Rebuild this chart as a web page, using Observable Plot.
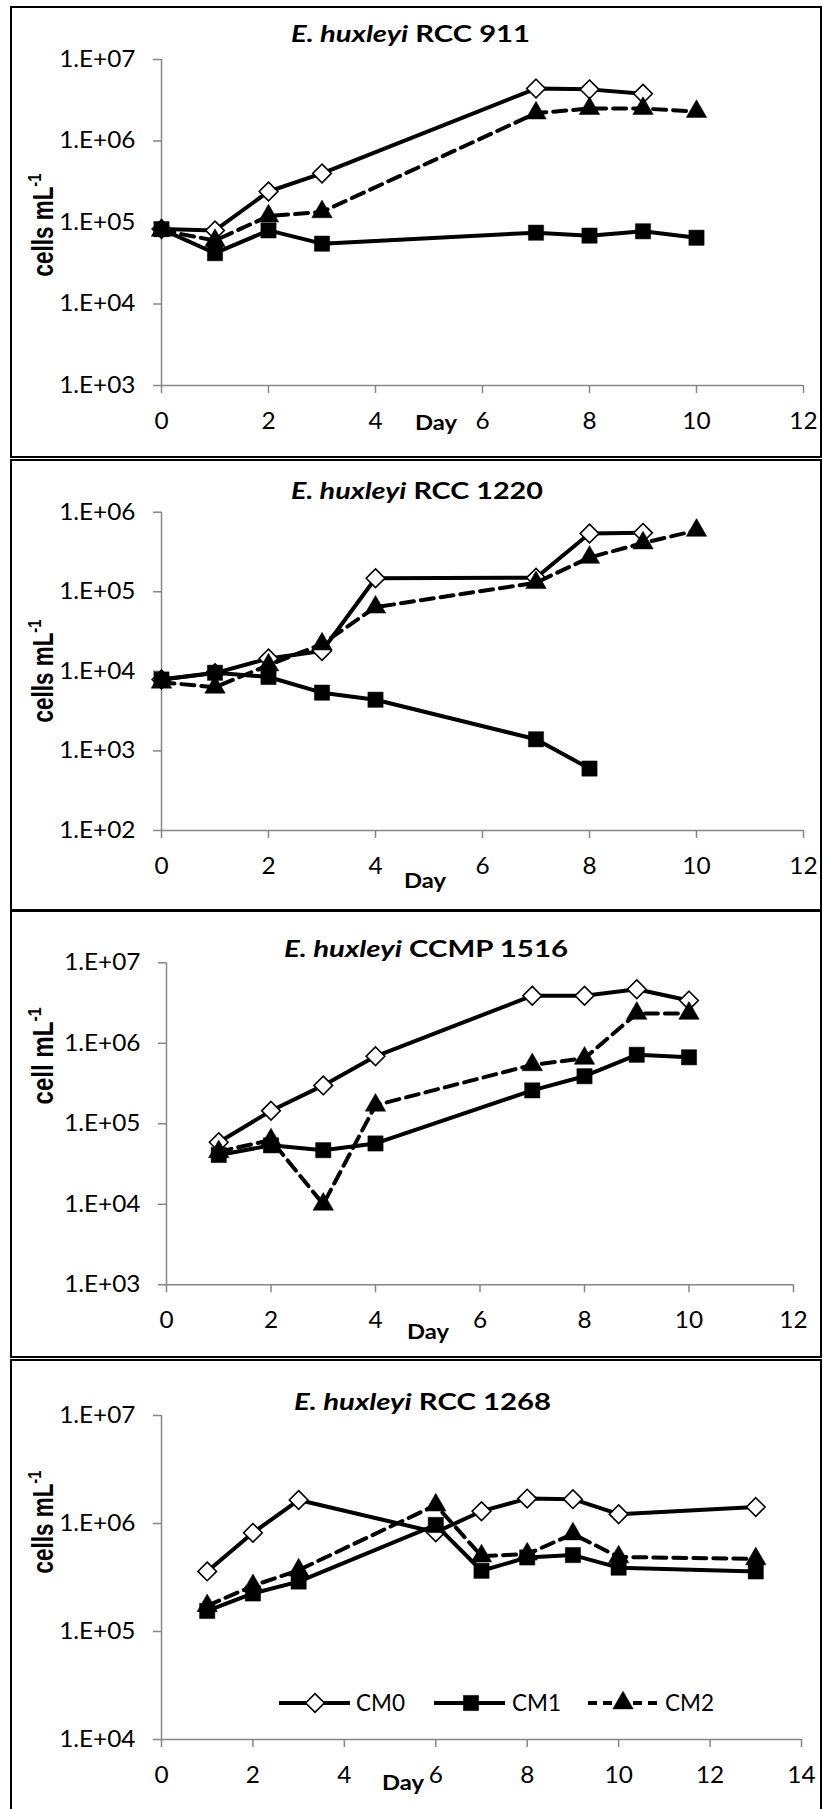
<!DOCTYPE html>
<html><head><meta charset="utf-8">
<script src="https://cdn.jsdelivr.net/npm/d3@7"></script>
<script src="https://cdn.jsdelivr.net/npm/@observablehq/plot@0.6"></script>
<style>
body{margin:0;background:#fff;width:823px;height:1809px;position:relative;overflow:hidden;font-family:Lato,"Open Sans",sans-serif;}
.box{position:absolute;box-sizing:border-box;border:2px solid #000;}
.abs{position:absolute;}
</style></head>
<body>
<script>
// ---------- data ----------
const seriesNames = ["CM0", "CM1", "CM2"];

const days911 = [0, 1, 2, 3, 7, 8, 9, 10];
const cm0_911 = [8.3e4, 8.0e4, 2.4e5, 4.0e5, 4.4e6, 4.3e6, 3.8e6, null];
const cm1_911 = [8.3e4, 4.2e4, 8.0e4, 5.5e4, 7.5e4, 6.9e4, 7.8e4, 6.5e4];
const cm2_911 = [8.0e4, 6.0e4, 1.2e5, 1.35e5, 2.2e6, 2.5e6, 2.5e6, 2.3e6];

const days1220 = [0, 1, 2, 3, 4, 7, 8, 9, 10];
const cm0_1220 = [7.9e3, 9.5e3, 1.45e4, 1.8e4, 1.48e5, 1.5e5, 5.4e5, 5.5e5, null];
const cm1_1220 = [7.9e3, 9.6e3, 8.5e3, 5.4e3, 4.4e3, 1.4e3, 6.0e2, null, null];
const cm2_1220 = [7.3e3, 6.3e3, 1.2e4, 2.2e4, 6.4e4, 1.3e5, 2.7e5, 4.1e5, 5.9e5];

const days1516 = [1, 2, 3, 4, 7, 8, 9, 10];
const cm0_1516 = [5.9e4, 1.45e5, 3.0e5, 6.9e5, 3.9e6, 3.9e6, 4.7e6, 3.4e6];
const cm1_1516 = [4.1e4, 5.4e4, 4.7e4, 5.7e4, 2.6e5, 3.9e5, 7.2e5, 6.7e5];
const cm2_1516 = [4.5e4, 6.3e4, 1.0e4, 1.7e5, 5.4e5, 6.5e5, 2.35e6, 2.35e6];

const days1268 = [1, 2, 3, 6, 7, 8, 9, 10, 13];
const cm0_1268 = [3.6e5, 8.2e5, 1.65e6, 8.3e5, 1.3e6, 1.7e6, 1.68e6, 1.22e6, 1.42e6];
const cm1_1268 = [1.55e5, 2.25e5, 2.9e5, 9.7e5, 3.65e5, 4.85e5, 5.1e5, 3.9e5, 3.6e5];
const cm2_1268 = [1.73e5, 2.65e5, 3.7e5, 1.48e6, 5.0e5, 5.2e5, 8.0e5, 4.9e5, 4.7e5];

const strainNames = ["RCC 911", "RCC 1220", "CCMP 1516", "RCC 1268"];
const yLabels = ["cells mL", "cells mL", "cell mL", "cells mL"];
const xTicks12 = [0, 2, 4, 6, 8, 10, 12];
const xTicks14 = [0, 2, 4, 6, 8, 10, 12, 14];
const yTicks7_3 = [1e3, 1e4, 1e5, 1e6, 1e7];
const yTicks6_2 = [1e2, 1e3, 1e4, 1e5, 1e6];
const yTicks7_4 = [1e4, 1e5, 1e6, 1e7];

// ---------- layout ----------
const panels = [
  {days: days911, vals: [cm0_911, cm1_911, cm2_911], xTicks: xTicks12, yTicks: yTicks7_3,
   top: 0, height: 458, mt: 59, mb: 73, ml: 161, mr: 20,
   box: [6, 452], title: [410.5, 41.7, 239], ylab: [52.5, 225, 103], day: [436, 430]},
  {days: days1220, vals: [cm0_1220, cm1_1220, cm2_1220], xTicks: xTicks12, yTicks: yTicks6_2,
   top: 459, height: 452, mt: 52.7, mb: 81, ml: 161, mr: 20,
   box: [459, 452], title: [417, 499, 252], ylab: [52.5, 671, 103], day: [425, 888]},
  {days: days1516, vals: [cm0_1516, cm1_1516, cm2_1516], xTicks: xTicks12, yTicks: yTicks7_3,
   top: 910, height: 448, mt: 52.3, mb: 73.7, ml: 166, mr: 30,
   box: [910, 448], title: [426, 956.7, 284], ylab: [52.5, 1056, 97], day: [428, 1339]},
  {days: days1268, vals: [cm0_1268, cm1_1268, cm2_1268], xTicks: xTicks14, yTicks: yTicks7_4,
   top: 1359, height: 450, mt: 56, mb: 70, ml: 161, mr: 22,
   box: [1359, 462], title: [422.5, 1410, 257], ylab: [52.5, 1522, 103], day: [403, 1790]}
];

const AXIS = "#868686";
const TEXT_STRETCH = 1.06;
const DAY_WIDTH = 42;
const YLAB_THICK = 1.3;
const fmt = d => "1.E+" + String(Math.round(Math.log10(d))).padStart(2, "0");
const styleFor = {
  CM0: {symbol: "diamond2", r: 8.4, fill: "#fff", stroke: "#000", strokeWidth: 1.6, dash: null},
  CM1: {symbol: "square", r: 8.6, fill: "#000", stroke: "#000", strokeWidth: 0.5, dash: null},
  CM2: {symbol: "triangle", r: 7.6, fill: "#000", stroke: "#000", strokeWidth: 0.5, dash: "13,7"}
};

function stretchText(svg, k) {
  d3.select(svg).selectAll("text").each(function () {
    const tr = this.getAttribute("transform");
    if (tr) {
      this.setAttribute("transform", tr + ` scale(${k},1)`);
    } else {
      const x = +this.getAttribute("x") || 0, y = +this.getAttribute("y") || 0;
      this.removeAttribute("x"); this.removeAttribute("y");
      this.setAttribute("transform", `translate(${x},${y}) scale(${k},1)`);
    }
  });
}

panels.forEach((p, idx) => {
  const box = document.createElement("div");
  box.className = "box";
  box.style.left = "10px"; box.style.width = "812px";
  box.style.top = p.box[0] + "px"; box.style.height = p.box[1] + "px";
  document.body.appendChild(box);

  const data = [];
  p.vals.forEach((arr, i) => arr.forEach((v, j) => {
    if (v != null) data.push({day: p.days[j], value: v, s: seriesNames[i]});
  }));
  const xDom = [p.xTicks[0], p.xTicks[p.xTicks.length - 1]];
  const yDom = [p.yTicks[0], p.yTicks[p.yTicks.length - 1]];

  const marks = [
    Plot.ruleX([xDom[0]], {stroke: AXIS, strokeWidth: 1.5}),
    Plot.ruleY([yDom[0]], {stroke: AXIS, strokeWidth: 1.5}),
    Plot.axisY({ticks: p.yTicks, tickFormat: fmt, tickSize: 8, tickPadding: 18, stroke: AXIS, strokeWidth: 1.5, fill: "#000", label: null}),
    Plot.axisX({ticks: p.xTicks, tickFormat: d => String(d), tickSize: 8, tickPadding: 19, stroke: AXIS, strokeWidth: 1.5, fill: "#000", label: null})
  ];
  seriesNames.forEach(s => {
    const st = styleFor[s];
    const sub = data.filter(d => d.s === s);
    marks.push(Plot.line(sub, {x: "day", y: "value", stroke: "#000", strokeWidth: 4,
      strokeDasharray: st.dash, strokeLinejoin: "round"}));
    marks.push(Plot.dot(sub, {x: "day", y: "value", symbol: () => st.symbol, r: st.r,
      fill: st.fill, stroke: st.stroke, strokeWidth: st.strokeWidth}));
  });

  const chart = Plot.plot({
    width: 823, height: p.height,
    marginLeft: p.ml, marginRight: p.mr, marginTop: p.mt, marginBottom: p.mb,
    x: {domain: xDom, nice: false},
    y: {type: "log", domain: yDom, nice: false},
    symbol: {type: "identity"},
    style: {fontFamily: "Lato, 'Open Sans', sans-serif", fontSize: "23px", background: "transparent", overflow: "visible"},
    marks
  });
  stretchText(chart, TEXT_STRETCH);
  const wrap = document.createElement("div");
  wrap.className = "abs";
  wrap.style.left = "0px"; wrap.style.top = p.top + "px";
  wrap.appendChild(chart);
  document.body.appendChild(wrap);
});

// ---------- overlay text: titles, axis titles, legend ----------
const ov = d3.select(document.body).append("svg")
  .attr("class", "abs").style("left", "0px").style("top", "0px")
  .attr("width", 823).attr("height", 1809).style("pointer-events", "none");

panels.forEach((p, idx) => {
  // title
  const t = ov.append("text")
    .attr("x", p.title[0]).attr("y", p.title[1])
    .attr("text-anchor", "middle")
    .attr("textLength", p.title[2]).attr("lengthAdjust", "spacingAndGlyphs")
    .attr("font-family", "Lato, sans-serif").attr("font-weight", "bold").attr("font-size", 22.5);
  t.append("tspan").attr("font-style", "italic").text("E. huxleyi");
  t.append("tspan").text(" " + strainNames[idx]);

  // Day
  ov.append("text")
    .attr("x", p.day[0]).attr("y", p.day[1])
    .attr("text-anchor", "middle")
    .attr("textLength", DAY_WIDTH).attr("lengthAdjust", "spacingAndGlyphs")
    .attr("font-family", "Lato, sans-serif").attr("font-weight", "bold").attr("font-size", 21)
    .text("Day");

  // rotated y-axis title
  const g = ov.append("g")
    .attr("transform", `translate(${p.ylab[0]},${p.ylab[1]}) rotate(-90) scale(1,${YLAB_THICK})`);
  const yl = g.append("text")
    .attr("x", 0).attr("y", 0).attr("text-anchor", "middle")
    .attr("textLength", p.ylab[2]).attr("lengthAdjust", "spacingAndGlyphs")
    .attr("font-family", "'Liberation Sans', Arial, sans-serif").attr("font-weight", "bold").attr("font-size", 22);
  yl.append("tspan").text(yLabels[idx]);
  yl.append("tspan").attr("font-size", 14.5).attr("dy", -9).text("-1");
});

// legend (panel 4)
const legendItems = [
  {s: "CM0", x1: 279, x2: 350, mx: 315, tx: 356},
  {s: "CM1", x1: 434, x2: 505, mx: 471, tx: 512},
  {s: "CM2", x1: 588, x2: 660, mx: 623, tx: 665}
];
const legY = 1703;
const symMap = {diamond2: d3.symbolDiamond2, square: d3.symbolSquare, triangle: d3.symbolTriangle};
legendItems.forEach(it => {
  const st = styleFor[it.s];
  ov.append("line").attr("x1", it.x1).attr("x2", it.x2).attr("y1", legY).attr("y2", legY)
    .attr("stroke", "#000").attr("stroke-width", 4).attr("stroke-dasharray", st.dash ? "9,6" : null);
  ov.append("path").attr("transform", `translate(${it.mx},${legY})`)
    .attr("d", d3.symbol(symMap[st.symbol], Math.PI * st.r * st.r)())
    .attr("fill", st.fill).attr("stroke", st.stroke).attr("stroke-width", st.strokeWidth);
  ov.append("text").attr("font-family", "Lato, sans-serif").attr("font-size", 23)
    .attr("x", it.tx).attr("y", legY).attr("dy", "0.36em")
    .attr("textLength", 49).attr("lengthAdjust", "spacingAndGlyphs")
    .text(it.s);
});
</script>
</body></html>
